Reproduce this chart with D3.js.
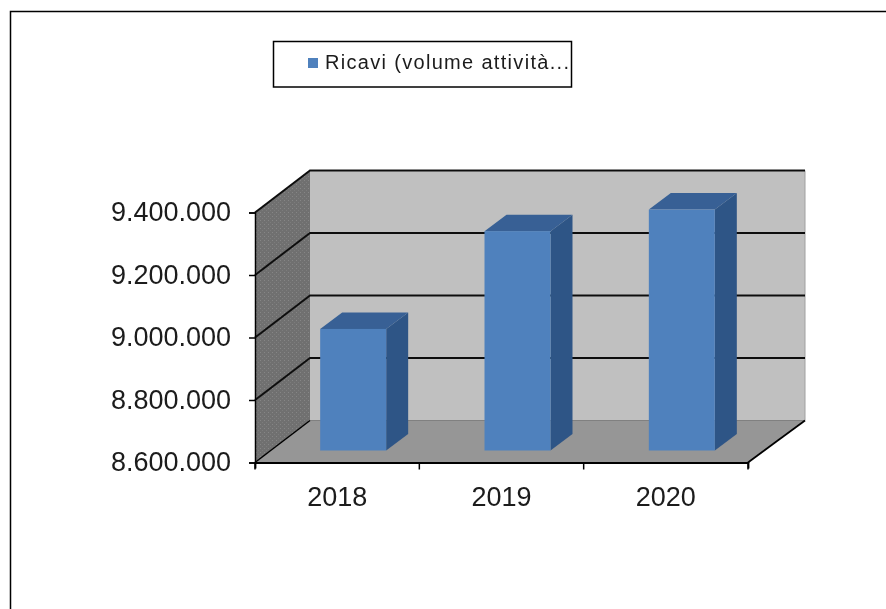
<!DOCTYPE html>
<html><head><meta charset="utf-8">
<script src="https://cdn.jsdelivr.net/npm/d3@7"></script>
<style>html,body{margin:0;padding:0;background:#fff}svg{display:block}text{font-family:"Liberation Sans",Arial,sans-serif}</style>
</head><body><svg id="c" width="886" height="609"></svg>
<script>
const categories = ["2018","2019","2020"];
const seriesName = "Ricavi (volume attività...";
const values = [8989000, 9302000, 9371000];
const yTicks = [8600000, 8800000, 9000000, 9200000, 9400000];
const yTickLabels = ["8.600.000","8.800.000","9.000.000","9.200.000","9.400.000"];

const W = 886, H = 609;
const svg = d3.select("#c");
const x = d3.scaleBand().domain(categories).range([255,748]);
const y = d3.scaleLinear().domain([8600000,9400000]).range([462.5,212.5]);
const wallDx = 55, wallDy = -42, wallDxR = 57;
const barOffX = 16, barOffY = -12, barDepthX = 22, barDepthY = -16.5, barW = 66;
const pts = a => a.map(p=>p.join(",")).join(" ");

const defs = svg.append("defs");
const pat = defs.append("pattern").attr("id","dots").attr("width",4).attr("height",4).attr("patternUnits","userSpaceOnUse");
pat.append("rect").attr("width",4).attr("height",4).attr("fill","#707070");
pat.append("rect").attr("x",0).attr("y",0).attr("width",1).attr("height",1).attr("fill","#868686");
pat.append("rect").attr("x",2).attr("y",2).attr("width",1).attr("height",1).attr("fill","#7c7c7c");
const blur = defs.append("filter").attr("id","soft").attr("x","-2%").attr("y","-2%").attr("width","104%").attr("height","104%");
blur.append("feGaussianBlur").attr("stdDeviation",0.45);

const root = svg.append("g").attr("filter","url(#soft)");

// page frame
root.append("path").attr("d",`M10.5,${H+5} V11.5 H${W+5}`).attr("fill","none").attr("stroke","#000").attr("stroke-width",1.5);

const yTop = y.range()[1], yBot = y.range()[0], xL = x.range()[0], xR = x.range()[1];
// back wall
root.append("rect").attr("x",xL+wallDx).attr("y",yTop+wallDy).attr("width",xR+wallDxR-xL-wallDx).attr("height",yBot-yTop).attr("fill","#c0c0c0");
// side wall
root.append("polygon").attr("points",pts([[xL,yTop],[xL+wallDx,yTop+wallDy],[xL+wallDx,yBot+wallDy],[xL,yBot]])).attr("fill","url(#dots)");
// floor
root.append("polygon").attr("points",pts([[xL,yBot],[xL+wallDx,yBot+wallDy],[xR+wallDxR,yBot+wallDy],[xR,yBot]])).attr("fill","#969696");
// wall edges
root.append("line").attr("x1",xR+wallDxR).attr("x2",xR+wallDxR).attr("y1",yTop+wallDy).attr("y2",yBot+wallDy).attr("stroke","#a0a0a0").attr("stroke-width",1);
root.append("line").attr("x1",xL+wallDx).attr("x2",xR+wallDxR).attr("y1",yBot+wallDy).attr("y2",yBot+wallDy).attr("stroke","#808080").attr("stroke-width",1);

// gridlines
yTicks.slice(1).forEach(t=>{
  root.append("path").attr("d",`M${xL},${y(t)} L${xL+wallDx},${y(t)+wallDy} H${xR+wallDxR}`).attr("fill","none").attr("stroke","#111").attr("stroke-width",2);
});

// bars
const bars = root.append("g").selectAll("g").data(categories.map((c,i)=>({c,v:values[i]}))).join("g");
const bx = d => x(d.c)+x.bandwidth()/2 - barW/2 + barOffX;
const by = d => y(d.v)+barOffY;
const by0 = barOffY + yBot;
bars.append("polygon").attr("fill","#2f5586").attr("points",d=>pts([[bx(d)+barW,by(d)],[bx(d)+barW+barDepthX,by(d)+barDepthY],[bx(d)+barW+barDepthX,by0+barDepthY],[bx(d)+barW,by0]]));
bars.append("polygon").attr("fill","#376195").attr("points",d=>pts([[bx(d),by(d)],[bx(d)+barDepthX,by(d)+barDepthY],[bx(d)+barW+barDepthX,by(d)+barDepthY],[bx(d)+barW,by(d)]]));
bars.append("rect").attr("fill","#4f81bd").attr("x",bx).attr("y",by).attr("width",barW).attr("height",d=>by0-by(d));

// axes
const yAxis = d3.axisLeft(y).tickValues(yTicks).tickFormat((d,i)=>yTickLabels[i]).tickSize(6).tickPadding(18);
const gy = root.append("g").attr("transform",`translate(${xL},0)`).call(yAxis);
gy.selectAll("path,line").attr("stroke","#000").attr("stroke-width",1.5);
gy.selectAll("text").attr("font-size",27).attr("fill","#1a1a1a").attr("dy","0.3em");
root.append("line").attr("x1",xL).attr("x2",xL+wallDx).attr("y1",yBot).attr("y2",yBot+wallDy).attr("stroke","#000").attr("stroke-width",1.5);

const xAxis = d3.axisBottom(x).tickSize(6).tickPadding(18);
const gx = root.append("g").attr("transform",`translate(0,${yBot})`).call(xAxis);
gx.selectAll("path").attr("stroke","#000").attr("stroke-width",1.8);
gx.selectAll("g.tick line").remove();
[xL,...categories.map(c=>x(c)+x.bandwidth())].forEach(v=>gx.append("line").attr("x1",v).attr("x2",v).attr("y1",0).attr("y2",7).attr("stroke","#000").attr("stroke-width",1.5));
gx.selectAll("text").attr("font-size",27).attr("fill","#1a1a1a");
// right floor edge
root.append("line").attr("x1",xR).attr("x2",xR+wallDxR).attr("y1",yBot).attr("y2",yBot+wallDy).attr("stroke","#000").attr("stroke-width",1.8);

// legend
const leg = root.append("g");
leg.append("rect").attr("x",273.5).attr("y",41.5).attr("width",298).attr("height",45.5).attr("fill","#fff").attr("stroke","#000").attr("stroke-width",1.5);
leg.append("rect").attr("x",308).attr("y",58).attr("width",10).attr("height",10).attr("fill","#4f81bd");
leg.append("text").attr("x",325).attr("y",69).attr("font-size",20).attr("fill","#1a1a1a").attr("textLength",244).attr("lengthAdjust","spacing").text(seriesName);
</script></body></html>
